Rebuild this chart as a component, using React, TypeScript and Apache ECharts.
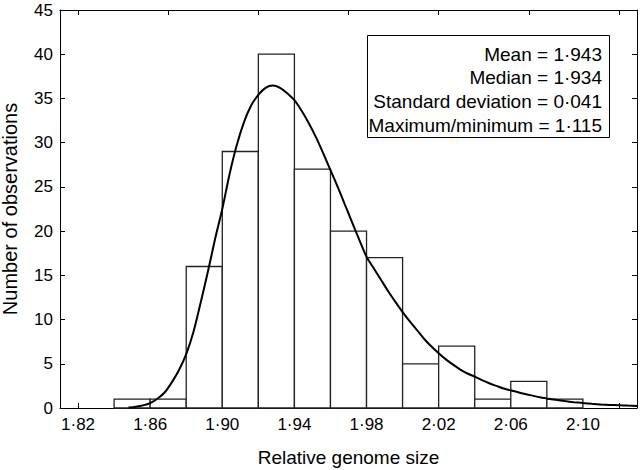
import React, { useEffect, useRef } from 'react';
import * as echarts from 'echarts';

// Histogram bins (left/right edges) and counts
const binStarts = [1.84, 1.86, 1.88, 1.90, 1.92, 1.94, 1.96, 1.98, 2.00, 2.02, 2.04, 2.06, 2.08];
const binEnds = [1.86, 1.88, 1.90, 1.92, 1.94, 1.96, 1.98, 2.00, 2.02, 2.04, 2.06, 2.08, 2.10];
const counts = [1, 1, 16, 29, 40, 27, 20, 17, 5, 7, 1, 3, 1];

// Fitted curve
const curveX = [
  1.848, 1.852, 1.856, 1.860, 1.864, 1.868, 1.872, 1.876, 1.880, 1.884, 1.888, 1.892, 1.896,
  1.900, 1.904, 1.908, 1.912, 1.916, 1.920, 1.924, 1.928, 1.932, 1.936, 1.940, 1.944, 1.948,
  1.952, 1.956, 1.960, 1.964, 1.968, 1.972, 1.976, 1.980, 1.984, 1.988, 1.992, 1.996, 2.000,
  2.004, 2.008, 2.012, 2.016, 2.020, 2.024, 2.028, 2.032, 2.036, 2.040, 2.044, 2.048, 2.052,
  2.056, 2.060, 2.064, 2.068, 2.072, 2.076, 2.080, 2.085, 2.090, 2.095, 2.100, 2.105, 2.110,
  2.115, 2.120, 2.125, 2.130,
];
const curveY = [
  0.05, 0.15, 0.3, 0.56, 1.05, 1.75, 2.9, 4.3, 6.1, 8.6, 11.9, 15.4, 19.1,
  22.5, 26.4, 29.7, 32.3, 34.2, 35.4, 36.2, 36.45, 36.2, 35.6, 34.8, 33.6, 32.2,
  30.6, 28.8, 26.9, 25.0, 23.0, 21.0, 19.0, 17.1, 15.8, 14.5, 13.2, 12.0, 10.85,
  9.8, 8.8, 7.8, 6.95, 6.2, 5.5, 4.9, 4.35, 3.9, 3.55, 3.15, 2.8, 2.5,
  2.2, 2.0, 1.78, 1.58, 1.4, 1.22, 1.08, 0.92, 0.78, 0.66, 0.56, 0.47, 0.4,
  0.35, 0.31, 0.27, 0.24,
];

const xLabelValues = [1.82, 1.86, 1.90, 1.94, 1.98, 2.02, 2.06, 2.10];
const xTickValues = [1.82, 1.87, 1.92, 1.97, 2.02, 2.07, 2.12];
const statLines = [
  'Mean = 1·943',
  'Median = 1·934',
  'Standard deviation = 0·041',
  'Maximum/minimum = 1·115',
];

const FONT = '"Liberation Sans", Arial, Helvetica, sans-serif';

export default function App() {
  const ref = useRef<HTMLDivElement>(null);

  useEffect(() => {
    if (!ref.current) return;
    const chart = echarts.init(ref.current, undefined, { renderer: 'svg' });
    const fmt = (v: number) => v.toFixed(2).replace('.', '·');
    const axisLine = { show: true, onZero: false, lineStyle: { color: '#000', width: 1 } };

    const xBase = {
      type: 'value' as const,
      min: 1.81,
      max: 2.13,
      splitLine: { show: false },
      axisLine,
    };
    const yBase = {
      type: 'value' as const,
      min: 0,
      max: 45,
      interval: 5,
      splitLine: { show: false },
      axisLine,
      axisTick: { show: true, inside: true, length: 5, lineStyle: { color: '#000' } },
    };

    chart.setOption({
      animation: false,
      backgroundColor: '#fff',
      textStyle: { fontFamily: FONT },
      grid: {
        left: 60,
        right: 3,
        top: 10,
        bottom: 62,
        containLabel: false,
        outerBoundsMode: 'none',
      },
      xAxis: [
        {
          ...xBase,
          position: 'bottom',
          name: 'Relative genome size',
          nameLocation: 'middle',
          nameGap: 40,
          nameTextStyle: { fontSize: 19, color: '#000', fontFamily: FONT },
          axisTick: {
            show: true,
            inside: true,
            length: 5,
            customValues: xTickValues,
            lineStyle: { color: '#000' },
          },
          axisLabel: {
            show: true,
            customValues: xLabelValues,
            formatter: fmt,
            fontSize: 17,
            color: '#000',
            margin: 8,
            fontFamily: FONT,
          },
        },
        {
          ...xBase,
          position: 'top',
          axisTick: {
            show: true,
            inside: true,
            length: 5,
            customValues: xTickValues,
            lineStyle: { color: '#000' },
          },
          axisLabel: { show: false },
        },
      ],
      yAxis: [
        {
          ...yBase,
          position: 'left',
          name: 'Number of observations',
          nameLocation: 'middle',
          nameRotate: 90,
          nameGap: 40,
          nameTextStyle: { fontSize: 20, color: '#000', fontFamily: FONT },
          axisLabel: { fontSize: 17, color: '#000', margin: 7, fontFamily: FONT },
        },
        {
          ...yBase,
          position: 'right',
          axisLabel: { show: false },
        },
      ],
      series: [
        {
          type: 'custom',
          xAxisIndex: 0,
          yAxisIndex: 0,
          data: binStarts.map((s, i) => [s, binEnds[i], counts[i]]),
          encode: { x: [0, 1], y: 2 },
          z: 2,
          renderItem: (_params: any, api: any) => {
            const p0 = api.coord([api.value(0), api.value(2)]);
            const p1 = api.coord([api.value(1), 0]);
            return {
              type: 'rect',
              shape: { x: p0[0], y: p0[1], width: p1[0] - p0[0], height: p1[1] - p0[1] },
              style: { fill: '#fff', stroke: '#222', lineWidth: 1.3 },
            };
          },
        },
        {
          type: 'line',
          xAxisIndex: 0,
          yAxisIndex: 0,
          data: curveX.map((x, i) => [x, curveY[i]]),
          smooth: 0.3,
          showSymbol: false,
          symbol: 'none',
          z: 3,
          lineStyle: { color: '#000', width: 2 },
        },
      ],
      graphic: [
        {
          type: 'rect',
          left: 367,
          top: 35,
          shape: { width: 242, height: 102 },
          style: { fill: '#fff', stroke: '#000', lineWidth: 1 },
          z: 10,
        },
        ...statLines.map((t, i) => ({
          type: 'text',
          x: 602,
          y: 54 + i * 23.7,
          z: 11,
          style: {
            text: t,
            align: 'right',
            verticalAlign: 'middle',
            fontSize: 19,
            fontFamily: FONT,
            fill: '#000',
          },
        })),
      ],
    });

    return () => chart.dispose();
  }, []);

  return (
    <div
      ref={ref}
      style={{ position: 'absolute', left: 0, top: 0, width: 640, height: 470 }}
    />
  );
}
